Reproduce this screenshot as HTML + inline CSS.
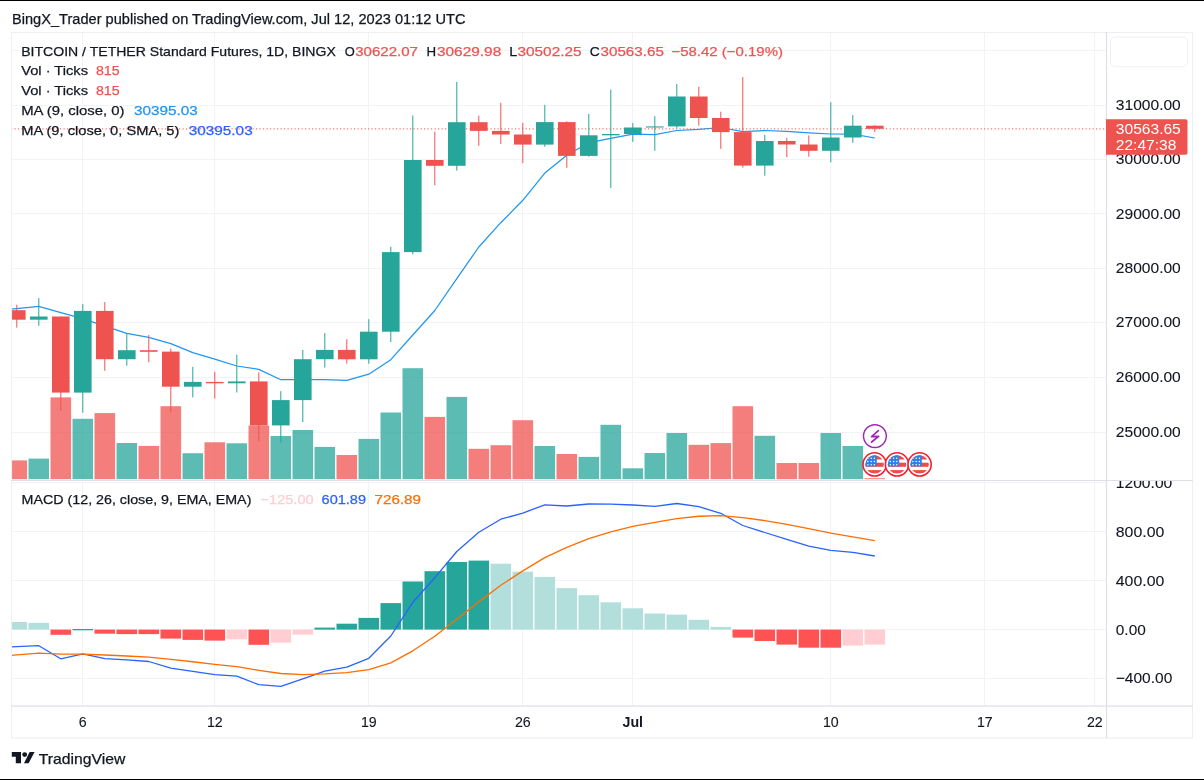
<!DOCTYPE html>
<html><head><meta charset="utf-8"><style>
html,body{margin:0;padding:0;background:#fff;width:1204px;height:780px;overflow:hidden}
svg{display:block;will-change:transform}
text{font-family:"Liberation Sans",sans-serif}
</style></head><body>
<svg width="1204" height="780" viewBox="0 0 1204 780">
<rect x="0" y="0" width="1204" height="780" fill="#fff"/>
<rect x="0" y="0" width="1204" height="1.0" fill="#000"/>
<rect x="0" y="779" width="1204" height="1" fill="#000"/>
<text x="12.0" y="24.1" font-size="14" fill="#131722" stroke="#131722" stroke-width="0.25" textLength="453.5" lengthAdjust="spacingAndGlyphs">BingX_Trader published on TradingView.com, Jul 12, 2023 01:12 UTC</text>
<g stroke="#F1F3F4" stroke-width="1" fill="none">
<line x1="82.5" y1="32" x2="82.5" y2="706"/>
<line x1="214.5" y1="32" x2="214.5" y2="706"/>
<line x1="368.5" y1="32" x2="368.5" y2="706"/>
<line x1="522.5" y1="32" x2="522.5" y2="706"/>
<line x1="632.5" y1="32" x2="632.5" y2="706"/>
<line x1="830.5" y1="32" x2="830.5" y2="706"/>
<line x1="984.5" y1="32" x2="984.5" y2="706"/>
<line x1="1094.5" y1="32" x2="1094.5" y2="706"/>
<line x1="11" y1="50.5" x2="1106" y2="50.5"/>
<line x1="11" y1="105.5" x2="1106" y2="105.5"/>
<line x1="11" y1="159.5" x2="1106" y2="159.5"/>
<line x1="11" y1="213.5" x2="1106" y2="213.5"/>
<line x1="11" y1="268.5" x2="1106" y2="268.5"/>
<line x1="11" y1="322.5" x2="1106" y2="322.5"/>
<line x1="11" y1="377.5" x2="1106" y2="377.5"/>
<line x1="11" y1="432.5" x2="1106" y2="432.5"/>
<line x1="11" y1="482.5" x2="1106" y2="482.5"/>
<line x1="11" y1="531.5" x2="1106" y2="531.5"/>
<line x1="11" y1="580.5" x2="1106" y2="580.5"/>
<line x1="11" y1="629.5" x2="1106" y2="629.5"/>
<line x1="11" y1="678.5" x2="1106" y2="678.5"/>
</g>
<defs><clipPath id="cm"><rect x="11.5" y="32.5" width="1094.5" height="447.5"/></clipPath><clipPath id="cd"><rect x="11.5" y="481" width="1094.5" height="225"/></clipPath><clipPath id="cax"><rect x="1107" y="481" width="85" height="225"/></clipPath></defs>
<g clip-path="url(#cm)">
<rect x="6.50" y="460.4" width="20.6" height="18.80" fill="rgba(239,83,80,0.75)"/>
<rect x="28.50" y="458.6" width="20.6" height="20.60" fill="rgba(38,166,154,0.75)"/>
<rect x="50.50" y="397.4" width="20.6" height="81.80" fill="rgba(239,83,80,0.75)"/>
<rect x="72.50" y="418.8" width="20.6" height="60.40" fill="rgba(38,166,154,0.75)"/>
<rect x="94.50" y="413.1" width="20.6" height="66.10" fill="rgba(239,83,80,0.75)"/>
<rect x="116.50" y="443.0" width="20.6" height="36.20" fill="rgba(38,166,154,0.75)"/>
<rect x="138.50" y="445.9" width="20.6" height="33.30" fill="rgba(239,83,80,0.75)"/>
<rect x="160.50" y="406.2" width="20.6" height="73.00" fill="rgba(239,83,80,0.75)"/>
<rect x="182.50" y="453.2" width="20.6" height="26.00" fill="rgba(38,166,154,0.75)"/>
<rect x="204.50" y="442.3" width="20.6" height="36.90" fill="rgba(239,83,80,0.75)"/>
<rect x="226.50" y="443.3" width="20.6" height="35.90" fill="rgba(38,166,154,0.75)"/>
<rect x="248.50" y="425.5" width="20.6" height="53.70" fill="rgba(239,83,80,0.75)"/>
<rect x="270.50" y="436.0" width="20.6" height="43.20" fill="rgba(38,166,154,0.75)"/>
<rect x="292.50" y="430.0" width="20.6" height="49.20" fill="rgba(38,166,154,0.75)"/>
<rect x="314.50" y="446.9" width="20.6" height="32.30" fill="rgba(38,166,154,0.75)"/>
<rect x="336.50" y="455.0" width="20.6" height="24.20" fill="rgba(239,83,80,0.75)"/>
<rect x="358.50" y="438.9" width="20.6" height="40.30" fill="rgba(38,166,154,0.75)"/>
<rect x="380.50" y="412.5" width="20.6" height="66.70" fill="rgba(38,166,154,0.75)"/>
<rect x="402.50" y="368.2" width="20.6" height="111.00" fill="rgba(38,166,154,0.75)"/>
<rect x="424.50" y="416.9" width="20.6" height="62.30" fill="rgba(239,83,80,0.75)"/>
<rect x="446.50" y="396.9" width="20.6" height="82.30" fill="rgba(38,166,154,0.75)"/>
<rect x="468.50" y="448.8" width="20.6" height="30.40" fill="rgba(239,83,80,0.75)"/>
<rect x="490.50" y="445.2" width="20.6" height="34.00" fill="rgba(239,83,80,0.75)"/>
<rect x="512.50" y="420.2" width="20.6" height="59.00" fill="rgba(239,83,80,0.75)"/>
<rect x="534.50" y="446.0" width="20.6" height="33.20" fill="rgba(38,166,154,0.75)"/>
<rect x="556.50" y="454.0" width="20.6" height="25.20" fill="rgba(239,83,80,0.75)"/>
<rect x="578.50" y="456.9" width="20.6" height="22.30" fill="rgba(38,166,154,0.75)"/>
<rect x="600.50" y="424.8" width="20.6" height="54.40" fill="rgba(38,166,154,0.75)"/>
<rect x="622.50" y="468.3" width="20.6" height="10.90" fill="rgba(38,166,154,0.75)"/>
<rect x="644.50" y="453.0" width="20.6" height="26.20" fill="rgba(38,166,154,0.75)"/>
<rect x="666.50" y="433.0" width="20.6" height="46.20" fill="rgba(38,166,154,0.75)"/>
<rect x="688.50" y="444.8" width="20.6" height="34.40" fill="rgba(239,83,80,0.75)"/>
<rect x="710.50" y="443.1" width="20.6" height="36.10" fill="rgba(239,83,80,0.75)"/>
<rect x="732.50" y="406.2" width="20.6" height="73.00" fill="rgba(239,83,80,0.75)"/>
<rect x="754.50" y="435.8" width="20.6" height="43.40" fill="rgba(38,166,154,0.75)"/>
<rect x="776.50" y="463.0" width="20.6" height="16.20" fill="rgba(239,83,80,0.75)"/>
<rect x="798.50" y="463.0" width="20.6" height="16.20" fill="rgba(239,83,80,0.75)"/>
<rect x="820.50" y="433.0" width="20.6" height="46.20" fill="rgba(38,166,154,0.75)"/>
<rect x="842.50" y="446.0" width="20.6" height="33.20" fill="rgba(38,166,154,0.75)"/>
<rect x="864.50" y="478.2" width="20.6" height="1.00" fill="rgba(239,83,80,0.75)"/>
<polyline points="-5.2,310.9 16.80,308.6 38.80,306.3 60.80,312.6 82.80,318.6 104.80,326.2 126.80,333.4 148.80,337.4 170.80,343.6 192.80,352.7 214.80,359.1 236.80,366.0 258.80,369.4 280.80,379.7 302.80,379.7 324.80,379.7 346.80,380.4 368.80,374.2 390.80,359.7 412.80,335.0 434.80,310.5 456.80,278.6 478.80,247.0 500.80,222.7 522.80,200.3 544.80,173.1 566.80,155.2 588.80,142.7 610.80,138.3 632.80,134.1 654.80,134.6 676.80,130.5 698.80,129.3 720.80,127.5 742.80,131.6 764.80,130.5 786.80,131.3 808.80,132.8 830.80,134.0 852.80,134.2 874.80,138.0" fill="none" stroke="#2196F3" stroke-width="1.25" stroke-linejoin="round"/>
<line x1="11" y1="128.9" x2="1106" y2="128.9" stroke="#EF5350" stroke-width="1" stroke-dasharray="1.2 2.3"/>
<rect x="16.30" y="304.7" width="1" height="22.90" fill="#EF5350"/>
<rect x="8.00" y="310.2" width="17.6" height="9.50" fill="#EF5350"/>
<rect x="38.30" y="298.1" width="1" height="27.70" fill="#26A69A"/>
<rect x="30.00" y="316.5" width="17.6" height="3.20" fill="#26A69A"/>
<rect x="60.30" y="316.5" width="1" height="94.50" fill="#EF5350"/>
<rect x="52.00" y="316.5" width="17.6" height="76.10" fill="#EF5350"/>
<rect x="82.30" y="304.0" width="1" height="108.70" fill="#26A69A"/>
<rect x="74.00" y="310.9" width="17.6" height="81.70" fill="#26A69A"/>
<rect x="104.30" y="302.1" width="1" height="68.70" fill="#EF5350"/>
<rect x="96.00" y="310.9" width="17.6" height="48.30" fill="#EF5350"/>
<rect x="126.30" y="333.3" width="1" height="32.40" fill="#26A69A"/>
<rect x="118.00" y="350.2" width="17.6" height="9.00" fill="#26A69A"/>
<rect x="148.30" y="335.0" width="1" height="27.30" fill="#EF5350"/>
<rect x="140.00" y="350.2" width="17.6" height="1.60" fill="#EF5350"/>
<rect x="170.30" y="348.5" width="1" height="63.70" fill="#EF5350"/>
<rect x="162.00" y="351.6" width="17.6" height="35.10" fill="#EF5350"/>
<rect x="192.30" y="366.9" width="1" height="30.50" fill="#26A69A"/>
<rect x="184.00" y="381.9" width="17.6" height="4.80" fill="#26A69A"/>
<rect x="214.30" y="371.9" width="1" height="26.70" fill="#EF5350"/>
<rect x="206.00" y="381.9" width="17.6" height="1.40" fill="#EF5350"/>
<rect x="236.30" y="354.7" width="1" height="37.80" fill="#26A69A"/>
<rect x="228.00" y="381.4" width="17.6" height="1.90" fill="#26A69A"/>
<rect x="258.30" y="372.4" width="1" height="69.30" fill="#EF5350"/>
<rect x="250.00" y="381.4" width="17.6" height="44.00" fill="#EF5350"/>
<rect x="280.30" y="391.1" width="1" height="51.70" fill="#26A69A"/>
<rect x="272.00" y="400.1" width="17.6" height="25.30" fill="#26A69A"/>
<rect x="302.30" y="349.9" width="1" height="72.20" fill="#26A69A"/>
<rect x="294.00" y="359.2" width="17.6" height="40.90" fill="#26A69A"/>
<rect x="324.30" y="333.0" width="1" height="34.50" fill="#26A69A"/>
<rect x="316.00" y="349.9" width="17.6" height="9.30" fill="#26A69A"/>
<rect x="346.30" y="339.1" width="1" height="24.60" fill="#EF5350"/>
<rect x="338.00" y="349.9" width="17.6" height="9.40" fill="#EF5350"/>
<rect x="368.30" y="319.2" width="1" height="44.50" fill="#26A69A"/>
<rect x="360.00" y="331.7" width="17.6" height="27.60" fill="#26A69A"/>
<rect x="390.30" y="246.8" width="1" height="95.20" fill="#26A69A"/>
<rect x="382.00" y="252.1" width="17.6" height="79.60" fill="#26A69A"/>
<rect x="412.30" y="115.5" width="1" height="138.80" fill="#26A69A"/>
<rect x="404.00" y="160.0" width="17.6" height="92.10" fill="#26A69A"/>
<rect x="434.30" y="131.7" width="1" height="53.40" fill="#EF5350"/>
<rect x="426.00" y="160.0" width="17.6" height="5.80" fill="#EF5350"/>
<rect x="456.30" y="81.9" width="1" height="88.70" fill="#26A69A"/>
<rect x="448.00" y="122.2" width="17.6" height="43.60" fill="#26A69A"/>
<rect x="478.30" y="115.6" width="1" height="30.20" fill="#EF5350"/>
<rect x="470.00" y="122.2" width="17.6" height="8.70" fill="#EF5350"/>
<rect x="500.30" y="102.7" width="1" height="41.20" fill="#EF5350"/>
<rect x="492.00" y="130.9" width="17.6" height="3.60" fill="#EF5350"/>
<rect x="522.30" y="122.9" width="1" height="40.10" fill="#EF5350"/>
<rect x="514.00" y="134.5" width="17.6" height="10.10" fill="#EF5350"/>
<rect x="544.30" y="104.9" width="1" height="41.90" fill="#26A69A"/>
<rect x="536.00" y="122.1" width="17.6" height="22.50" fill="#26A69A"/>
<rect x="566.30" y="121.3" width="1" height="46.50" fill="#EF5350"/>
<rect x="558.00" y="122.1" width="17.6" height="33.80" fill="#EF5350"/>
<rect x="588.30" y="113.9" width="1" height="42.80" fill="#26A69A"/>
<rect x="580.00" y="135.3" width="17.6" height="20.60" fill="#26A69A"/>
<rect x="610.30" y="89.6" width="1" height="98.40" fill="#26A69A"/>
<rect x="602.00" y="134.0" width="17.6" height="1.30" fill="#26A69A"/>
<rect x="632.30" y="123.0" width="1" height="18.90" fill="#26A69A"/>
<rect x="624.00" y="127.5" width="17.6" height="6.50" fill="#26A69A"/>
<rect x="654.30" y="116.1" width="1" height="34.70" fill="#26A69A"/>
<rect x="646.00" y="126.4" width="17.6" height="1.10" fill="#26A69A"/>
<rect x="676.30" y="84.0" width="1" height="44.30" fill="#26A69A"/>
<rect x="668.00" y="96.5" width="17.6" height="29.90" fill="#26A69A"/>
<rect x="698.30" y="86.7" width="1" height="38.90" fill="#EF5350"/>
<rect x="690.00" y="96.5" width="17.6" height="21.50" fill="#EF5350"/>
<rect x="720.30" y="111.7" width="1" height="37.20" fill="#EF5350"/>
<rect x="712.00" y="118.0" width="17.6" height="14.10" fill="#EF5350"/>
<rect x="742.30" y="77.1" width="1" height="90.50" fill="#EF5350"/>
<rect x="734.00" y="132.1" width="17.6" height="33.50" fill="#EF5350"/>
<rect x="764.30" y="134.9" width="1" height="40.80" fill="#26A69A"/>
<rect x="756.00" y="141.0" width="17.6" height="24.60" fill="#26A69A"/>
<rect x="786.30" y="137.9" width="1" height="19.20" fill="#EF5350"/>
<rect x="778.00" y="141.0" width="17.6" height="3.50" fill="#EF5350"/>
<rect x="808.30" y="135.4" width="1" height="21.30" fill="#EF5350"/>
<rect x="800.00" y="144.5" width="17.6" height="6.30" fill="#EF5350"/>
<rect x="830.30" y="102.2" width="1" height="60.10" fill="#26A69A"/>
<rect x="822.00" y="137.5" width="17.6" height="13.30" fill="#26A69A"/>
<rect x="852.30" y="115.1" width="1" height="27.70" fill="#26A69A"/>
<rect x="844.00" y="125.7" width="17.6" height="11.80" fill="#26A69A"/>
<rect x="874.30" y="125.2" width="1" height="6.90" fill="#EF5350"/>
<rect x="866.00" y="125.7" width="17.6" height="3.10" fill="#EF5350"/>
</g>
<g clip-path="url(#cd)">
<rect x="6.50" y="621.9" width="20.6" height="7.70" fill="#B2DFDB"/>
<rect x="28.50" y="622.9" width="20.6" height="6.70" fill="#B2DFDB"/>
<rect x="50.50" y="629.6" width="20.6" height="5.20" fill="#FF5252"/>
<rect x="72.50" y="629.0" width="20.6" height="1.30" fill="#26A69A"/>
<rect x="94.50" y="629.6" width="20.6" height="4.10" fill="#FF5252"/>
<rect x="116.50" y="629.6" width="20.6" height="4.50" fill="#FF5252"/>
<rect x="138.50" y="629.6" width="20.6" height="4.50" fill="#FF5252"/>
<rect x="160.50" y="629.6" width="20.6" height="9.00" fill="#FF5252"/>
<rect x="182.50" y="629.6" width="20.6" height="10.30" fill="#FF5252"/>
<rect x="204.50" y="629.6" width="20.6" height="11.00" fill="#FF5252"/>
<rect x="226.50" y="629.6" width="20.6" height="9.70" fill="#FFCDD2"/>
<rect x="248.50" y="629.6" width="20.6" height="15.20" fill="#FF5252"/>
<rect x="270.50" y="629.6" width="20.6" height="13.10" fill="#FFCDD2"/>
<rect x="292.50" y="629.6" width="20.6" height="5.10" fill="#FFCDD2"/>
<rect x="314.50" y="627.6" width="20.6" height="2.00" fill="#26A69A"/>
<rect x="336.50" y="623.7" width="20.6" height="5.90" fill="#26A69A"/>
<rect x="358.50" y="617.9" width="20.6" height="11.70" fill="#26A69A"/>
<rect x="380.50" y="603.1" width="20.6" height="26.50" fill="#26A69A"/>
<rect x="402.50" y="581.5" width="20.6" height="48.10" fill="#26A69A"/>
<rect x="424.50" y="571.2" width="20.6" height="58.40" fill="#26A69A"/>
<rect x="446.50" y="562.0" width="20.6" height="67.60" fill="#26A69A"/>
<rect x="468.50" y="560.6" width="20.6" height="69.00" fill="#26A69A"/>
<rect x="490.50" y="563.7" width="20.6" height="65.90" fill="#B2DFDB"/>
<rect x="512.50" y="571.7" width="20.6" height="57.90" fill="#B2DFDB"/>
<rect x="534.50" y="576.9" width="20.6" height="52.70" fill="#B2DFDB"/>
<rect x="556.50" y="588.1" width="20.6" height="41.50" fill="#B2DFDB"/>
<rect x="578.50" y="595.2" width="20.6" height="34.40" fill="#B2DFDB"/>
<rect x="600.50" y="602.3" width="20.6" height="27.30" fill="#B2DFDB"/>
<rect x="622.50" y="608.3" width="20.6" height="21.30" fill="#B2DFDB"/>
<rect x="644.50" y="613.5" width="20.6" height="16.10" fill="#B2DFDB"/>
<rect x="666.50" y="614.6" width="20.6" height="15.00" fill="#B2DFDB"/>
<rect x="688.50" y="619.8" width="20.6" height="9.80" fill="#B2DFDB"/>
<rect x="710.50" y="626.9" width="20.6" height="2.70" fill="#B2DFDB"/>
<rect x="732.50" y="629.6" width="20.6" height="8.00" fill="#FF5252"/>
<rect x="754.50" y="629.6" width="20.6" height="11.40" fill="#FF5252"/>
<rect x="776.50" y="629.6" width="20.6" height="15.00" fill="#FF5252"/>
<rect x="798.50" y="629.6" width="20.6" height="18.10" fill="#FF5252"/>
<rect x="820.50" y="629.6" width="20.6" height="18.10" fill="#FF5252"/>
<rect x="842.50" y="629.6" width="20.6" height="16.00" fill="#FFCDD2"/>
<rect x="864.50" y="629.6" width="20.6" height="15.00" fill="#FFCDD2"/>
<polyline points="-5.2,647.4 16.80,646.6 38.80,645.7 60.80,658.8 82.80,653.8 104.80,658.6 126.80,659.9 148.80,661.5 170.80,668.2 192.80,671.4 214.80,674.7 236.80,676.2 258.80,684.7 280.80,686.3 302.80,678.8 324.80,671.2 346.80,667.1 368.80,658.3 390.80,636.0 412.80,602.3 434.80,577.7 456.80,551.5 478.80,532.3 500.80,519.2 522.80,513.1 544.80,504.8 566.80,506.0 588.80,504.0 610.80,504.2 632.80,505.0 654.80,506.3 676.80,503.5 698.80,506.7 720.80,513.3 742.80,525.5 764.80,532.5 786.80,539.4 808.80,546.2 830.80,550.4 852.80,552.3 874.80,556.0" fill="none" stroke="#2962FF" stroke-width="1.3" stroke-linejoin="round"/>
<polyline points="-5.2,657.0 16.80,654.9 38.80,653.06 60.80,654.21 82.80,654.13 104.80,655.02 126.80,656.0 148.80,657.1 170.80,659.32 192.80,661.74 214.80,664.33 236.80,666.7 258.80,670.3 280.80,673.5 302.80,674.56 324.80,673.89 346.80,672.53 368.80,669.68 390.80,662.94 412.80,650.81 434.80,636.19 456.80,619.25 478.80,601.86 500.80,585.33 522.80,570.88 544.80,557.66 566.80,547.33 588.80,538.66 610.80,531.77 632.80,526.42 654.80,522.4 676.80,518.62 698.80,516.24 720.80,515.65 742.80,517.62 764.80,520.6 786.80,524.36 808.80,528.73 830.80,533.06 852.80,536.91 874.80,540.73" fill="none" stroke="#FF6D00" stroke-width="1.3" stroke-linejoin="round"/>
</g>
<rect x="11.5" y="32.5" width="1181" height="705.5" fill="none" stroke="#EDEFF3" stroke-width="1.1"/>
<line x1="1106.5" y1="32" x2="1106.5" y2="738" stroke="#DEE0E5" stroke-width="1.2"/>
<line x1="11" y1="480.5" x2="1193" y2="480.5" stroke="#DEE0E5" stroke-width="1.1"/>
<line x1="11" y1="706.2" x2="1193" y2="706.2" stroke="#DEE0E5" stroke-width="1.3"/>
<rect x="1110.5" y="37" width="77" height="29.7" rx="5" fill="#fff" stroke="#EEF0F5" stroke-width="1"/>
<text x="1115.8" y="110.0" font-size="14.4" fill="#131722" stroke="#131722" stroke-width="0.1" textLength="65" lengthAdjust="spacingAndGlyphs">31000.00</text>
<text x="1115.8" y="164.1" font-size="14.4" fill="#131722" stroke="#131722" stroke-width="0.1" textLength="65" lengthAdjust="spacingAndGlyphs">30000.00</text>
<text x="1115.8" y="218.5" font-size="14.4" fill="#131722" stroke="#131722" stroke-width="0.1" textLength="65" lengthAdjust="spacingAndGlyphs">29000.00</text>
<text x="1115.8" y="272.90000000000003" font-size="14.4" fill="#131722" stroke="#131722" stroke-width="0.1" textLength="65" lengthAdjust="spacingAndGlyphs">28000.00</text>
<text x="1115.8" y="327.3" font-size="14.4" fill="#131722" stroke="#131722" stroke-width="0.1" textLength="65" lengthAdjust="spacingAndGlyphs">27000.00</text>
<text x="1115.8" y="382.1" font-size="14.4" fill="#131722" stroke="#131722" stroke-width="0.1" textLength="65" lengthAdjust="spacingAndGlyphs">26000.00</text>
<text x="1115.8" y="436.90000000000003" font-size="14.4" fill="#131722" stroke="#131722" stroke-width="0.1" textLength="65" lengthAdjust="spacingAndGlyphs">25000.00</text>
<path d="M1106,119.2 H1185.5 a2,2 0 0 1 2,2 V152.8 a2,2 0 0 1 -2,2 H1106 Z" fill="#EF5350"/>
<text x="1115.8" y="133.8" font-size="14.4" fill="#fff" stroke="#fff" stroke-width="0" textLength="65" lengthAdjust="spacingAndGlyphs">30563.65</text>
<text x="1115.8" y="149.6" font-size="14.4" fill="#fff" stroke="#fff" stroke-width="0" textLength="60.5" lengthAdjust="spacingAndGlyphs">22:47:38</text>
<g clip-path="url(#cax)">
<text x="1115.8" y="488.0" font-size="14.4" fill="#131722" stroke="#131722" stroke-width="0.1" textLength="56.5" lengthAdjust="spacingAndGlyphs">1200.00</text>
</g>
<text x="1115.8" y="536.6" font-size="14.4" fill="#131722" stroke="#131722" stroke-width="0.1" textLength="48.5" lengthAdjust="spacingAndGlyphs">800.00</text>
<text x="1115.8" y="585.8" font-size="14.4" fill="#131722" stroke="#131722" stroke-width="0.1" textLength="48.5" lengthAdjust="spacingAndGlyphs">400.00</text>
<text x="1115.8" y="634.5" font-size="14.4" fill="#131722" stroke="#131722" stroke-width="0.1" textLength="30" lengthAdjust="spacingAndGlyphs">0.00</text>
<text x="1115.8" y="683.3" font-size="14.4" fill="#131722" stroke="#131722" stroke-width="0.1" textLength="56.5" lengthAdjust="spacingAndGlyphs">−400.00</text>
<text x="82.8" y="727.0" font-size="14.2" fill="#131722" stroke="#131722" stroke-width="0.1" text-anchor="middle">6</text>
<text x="206.9" y="727.0" font-size="14.2" fill="#131722" stroke="#131722" stroke-width="0.1" textLength="15.8" lengthAdjust="spacingAndGlyphs">12</text>
<text x="360.9" y="727.0" font-size="14.2" fill="#131722" stroke="#131722" stroke-width="0.1" textLength="15.8" lengthAdjust="spacingAndGlyphs">19</text>
<text x="514.9" y="727.0" font-size="14.2" fill="#131722" stroke="#131722" stroke-width="0.1" textLength="15.8" lengthAdjust="spacingAndGlyphs">26</text>
<text x="822.9" y="727.0" font-size="14.2" fill="#131722" stroke="#131722" stroke-width="0.1" textLength="15.8" lengthAdjust="spacingAndGlyphs">10</text>
<text x="976.9" y="727.0" font-size="14.2" fill="#131722" stroke="#131722" stroke-width="0.1" textLength="15.8" lengthAdjust="spacingAndGlyphs">17</text>
<text x="1086.9" y="727.0" font-size="14.2" fill="#131722" stroke="#131722" stroke-width="0.1" textLength="15.8" lengthAdjust="spacingAndGlyphs">22</text>
<text x="632.8" y="727.0" font-size="14.2" fill="#131722" stroke="#131722" stroke-width="0" font-weight="bold" text-anchor="middle">Jul</text>
<text x="21.2" y="55.7" font-size="13.4" fill="#131722" stroke="#131722" stroke-width="0.25" textLength="314.6" lengthAdjust="spacingAndGlyphs">BITCOIN / TETHER Standard Futures, 1D, BINGX</text>
<text x="344.8" y="55.7" font-size="13.4" fill="#131722" stroke="#131722" stroke-width="0.25" textLength="10" lengthAdjust="spacingAndGlyphs">O</text>
<text x="355.2" y="55.7" font-size="13.4" fill="#EF5350" stroke="#EF5350" stroke-width="0.25" textLength="62.8" lengthAdjust="spacingAndGlyphs">30622.07</text>
<text x="426.5" y="55.7" font-size="13.4" fill="#131722" stroke="#131722" stroke-width="0.25" textLength="9.6" lengthAdjust="spacingAndGlyphs">H</text>
<text x="437.0" y="55.7" font-size="13.4" fill="#EF5350" stroke="#EF5350" stroke-width="0.25" textLength="64.2" lengthAdjust="spacingAndGlyphs">30629.98</text>
<text x="509.3" y="55.7" font-size="13.4" fill="#131722" stroke="#131722" stroke-width="0.25" textLength="8" lengthAdjust="spacingAndGlyphs">L</text>
<text x="517.5" y="55.7" font-size="13.4" fill="#EF5350" stroke="#EF5350" stroke-width="0.25" textLength="64" lengthAdjust="spacingAndGlyphs">30502.25</text>
<text x="589.8" y="55.7" font-size="13.4" fill="#131722" stroke="#131722" stroke-width="0.25" textLength="10" lengthAdjust="spacingAndGlyphs">C</text>
<text x="600.5" y="55.7" font-size="13.4" fill="#EF5350" stroke="#EF5350" stroke-width="0.25" textLength="63.4" lengthAdjust="spacingAndGlyphs">30563.65</text>
<text x="671.4" y="55.7" font-size="13.4" fill="#EF5350" stroke="#EF5350" stroke-width="0.25" textLength="111.6" lengthAdjust="spacingAndGlyphs">−58.42 (−0.19%)</text>
<text x="21.2" y="75.2" font-size="13.4" fill="#131722" stroke="#131722" stroke-width="0.25" textLength="66.8" lengthAdjust="spacingAndGlyphs">Vol · Ticks</text>
<text x="96.0" y="75.2" font-size="13.4" fill="#EF5350" stroke="#EF5350" stroke-width="0.25" textLength="23.6" lengthAdjust="spacingAndGlyphs">815</text>
<text x="21.2" y="95.1" font-size="13.4" fill="#131722" stroke="#131722" stroke-width="0.25" textLength="66.8" lengthAdjust="spacingAndGlyphs">Vol · Ticks</text>
<text x="96.0" y="95.1" font-size="13.4" fill="#EF5350" stroke="#EF5350" stroke-width="0.25" textLength="23.6" lengthAdjust="spacingAndGlyphs">815</text>
<text x="21.2" y="115.0" font-size="13.4" fill="#131722" stroke="#131722" stroke-width="0.25" textLength="103.4" lengthAdjust="spacingAndGlyphs">MA (9, close, 0)</text>
<text x="133.9" y="115.0" font-size="13.4" fill="#2196F3" stroke="#2196F3" stroke-width="0.25" textLength="64" lengthAdjust="spacingAndGlyphs">30395.03</text>
<text x="21.2" y="134.6" font-size="13.4" fill="#131722" stroke="#131722" stroke-width="0.25" textLength="158.2" lengthAdjust="spacingAndGlyphs">MA (9, close, 0, SMA, 5)</text>
<text x="188.7" y="134.6" font-size="13.4" fill="#2962FF" stroke="#2962FF" stroke-width="0.25" textLength="64" lengthAdjust="spacingAndGlyphs">30395.03</text>
<text x="21.6" y="504.4" font-size="13.4" fill="#131722" stroke="#131722" stroke-width="0.25" textLength="229.8" lengthAdjust="spacingAndGlyphs">MACD (12, 26, close, 9, EMA, EMA)</text>
<text x="260.6" y="504.4" font-size="13.4" fill="#FFCDD2" stroke="#FFCDD2" stroke-width="0.25" textLength="53" lengthAdjust="spacingAndGlyphs">−125.00</text>
<text x="321.6" y="504.4" font-size="13.4" fill="#2962FF" stroke="#2962FF" stroke-width="0.25" textLength="44.4" lengthAdjust="spacingAndGlyphs">601.89</text>
<text x="374.6" y="504.4" font-size="13.4" fill="#FF6D00" stroke="#FF6D00" stroke-width="0.25" textLength="46.4" lengthAdjust="spacingAndGlyphs">726.89</text>
<circle cx="874.9" cy="436.1" r="11.4" fill="#fff" stroke="#9C27B0" stroke-width="1.4"/>
<path d="M878.4,430.6 L871.6,436.6 L878.6,436.3 L871.6,442.0" fill="none" stroke="#9C27B0" stroke-width="1.7" stroke-linejoin="round" stroke-linecap="round"/>
<g><circle cx="874.6" cy="464.4" r="11.6" fill="#fff" stroke="#F21E2E" stroke-width="1.6"/><clipPath id="f874"><circle cx="874.6" cy="464.4" r="9.2"/></clipPath><g clip-path="url(#f874)"><rect x="864.6" y="454.4" width="20" height="20" fill="#fff"/><rect x="864.6" y="454.4" width="20" height="5.1" fill="#EE4B4B"/><rect x="864.6" y="462.7" width="20" height="4.1" fill="#EE4B4B"/><rect x="864.6" y="470.09999999999997" width="20" height="4.5" fill="#EE4B4B"/><rect x="864.6" y="454.4" width="12.2" height="12.0" fill="#2F80E8"/><circle cx="867.90" cy="458.20" r="0.75" fill="#fff"/><circle cx="871.20" cy="458.20" r="0.75" fill="#fff"/><circle cx="874.40" cy="458.20" r="0.75" fill="#fff"/><circle cx="867.90" cy="461.50" r="0.75" fill="#fff"/><circle cx="871.20" cy="461.50" r="0.75" fill="#fff"/><circle cx="874.40" cy="461.50" r="0.75" fill="#fff"/><circle cx="867.90" cy="464.65" r="0.75" fill="#fff"/><circle cx="871.20" cy="464.65" r="0.75" fill="#fff"/><circle cx="874.40" cy="464.65" r="0.75" fill="#fff"/></g></g>
<g><circle cx="897.0" cy="464.4" r="11.6" fill="#fff" stroke="#F21E2E" stroke-width="1.6"/><clipPath id="f897"><circle cx="897.0" cy="464.4" r="9.2"/></clipPath><g clip-path="url(#f897)"><rect x="887.0" y="454.4" width="20" height="20" fill="#fff"/><rect x="887.0" y="454.4" width="20" height="5.1" fill="#EE4B4B"/><rect x="887.0" y="462.7" width="20" height="4.1" fill="#EE4B4B"/><rect x="887.0" y="470.09999999999997" width="20" height="4.5" fill="#EE4B4B"/><rect x="887.0" y="454.4" width="12.2" height="12.0" fill="#2F80E8"/><circle cx="890.30" cy="458.20" r="0.75" fill="#fff"/><circle cx="893.60" cy="458.20" r="0.75" fill="#fff"/><circle cx="896.80" cy="458.20" r="0.75" fill="#fff"/><circle cx="890.30" cy="461.50" r="0.75" fill="#fff"/><circle cx="893.60" cy="461.50" r="0.75" fill="#fff"/><circle cx="896.80" cy="461.50" r="0.75" fill="#fff"/><circle cx="890.30" cy="464.65" r="0.75" fill="#fff"/><circle cx="893.60" cy="464.65" r="0.75" fill="#fff"/><circle cx="896.80" cy="464.65" r="0.75" fill="#fff"/></g></g>
<g><circle cx="919.6" cy="464.4" r="11.6" fill="#fff" stroke="#F21E2E" stroke-width="1.6"/><clipPath id="f919"><circle cx="919.6" cy="464.4" r="9.2"/></clipPath><g clip-path="url(#f919)"><rect x="909.6" y="454.4" width="20" height="20" fill="#fff"/><rect x="909.6" y="454.4" width="20" height="5.1" fill="#EE4B4B"/><rect x="909.6" y="462.7" width="20" height="4.1" fill="#EE4B4B"/><rect x="909.6" y="470.09999999999997" width="20" height="4.5" fill="#EE4B4B"/><rect x="909.6" y="454.4" width="12.2" height="12.0" fill="#2F80E8"/><circle cx="912.90" cy="458.20" r="0.75" fill="#fff"/><circle cx="916.20" cy="458.20" r="0.75" fill="#fff"/><circle cx="919.40" cy="458.20" r="0.75" fill="#fff"/><circle cx="912.90" cy="461.50" r="0.75" fill="#fff"/><circle cx="916.20" cy="461.50" r="0.75" fill="#fff"/><circle cx="919.40" cy="461.50" r="0.75" fill="#fff"/><circle cx="912.90" cy="464.65" r="0.75" fill="#fff"/><circle cx="916.20" cy="464.65" r="0.75" fill="#fff"/><circle cx="919.40" cy="464.65" r="0.75" fill="#fff"/></g></g>
<path d="M11.8,752.1 H21 V763.2 H15.8 V756.7 H11.8 Z" fill="#131722"/>
<circle cx="24.7" cy="754.6" r="2.4" fill="#131722"/>
<path d="M29.6,752.1 H34.6 L28.6,763.2 H24.0 Z" fill="#131722"/>
<text x="38.8" y="763.8" font-size="14.5" fill="#131722" stroke="#131722" stroke-width="0.25" textLength="86.5" lengthAdjust="spacingAndGlyphs">TradingView</text>
</svg></body></html>
